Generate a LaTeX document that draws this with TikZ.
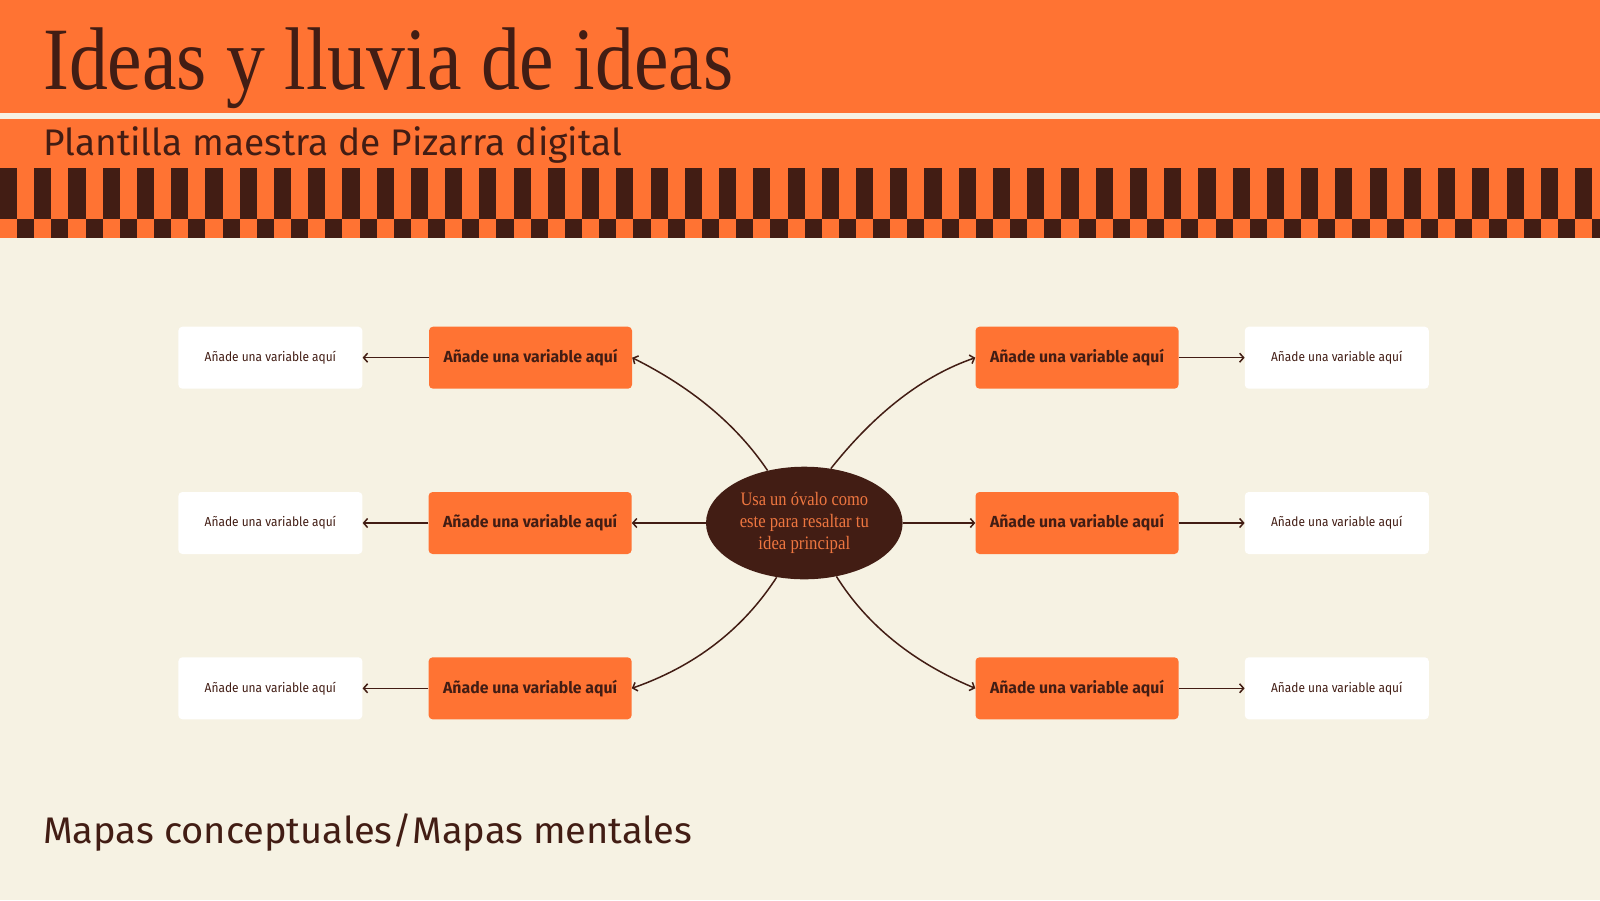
\documentclass[tikz,border=0pt]{standalone}
\usepackage{fontspec}
\usepackage{graphicx}
\setmainfont{Liberation Serif}
\newfontfamily\fira{Fira Sans}
\usetikzlibrary{arrows.meta,shapes.geometric}
\definecolor{orng}{HTML}{FF7333}
\definecolor{brn}{HTML}{421D14}
\definecolor{crm}{HTML}{F6F2E3}
\definecolor{ovtext}{HTML}{EE7640}
\newcommand\fitw[2]{\resizebox{#1}{\height}{#2}}
\begin{document}
\begin{tikzpicture}[x=1pt,y=-1pt,
  mainbox/.style={fill=orng, rounded corners=4pt, minimum width=203pt, minimum height=62pt, inner sep=0pt, text=brn, font=\fira\bfseries\fontsize{16}{19}\selectfont},
  subbox/.style={fill=white, rounded corners=4pt, minimum width=184pt, minimum height=62pt, inner sep=0pt, text=brn, font=\fira\fontsize{13}{16}\selectfont},
  conn/.style={draw=brn, line width=1.5pt, -{Straight Barb[length=4pt,width=9pt]}},
  heading/.style={anchor=base west, inner sep=0pt, text=brn}
]
\useasboundingbox (0,0) rectangle (1600,900);
\fill[crm] (0,0) rectangle (1600,900);
% header bands
\fill[orng] (0,0) rectangle (1600,113);
\fill[orng] (0,119) rectangle (1600,238);
\foreach \i in {0,...,46} {
  \fill[brn] ({\i*34.24},168) rectangle ++(17.12,51);
  \fill[brn] ({\i*34.24+17.12},219) rectangle ++(17.12,19);
}
\node[heading, font=\fontsize{89}{89}\selectfont] (title) at (43,89.8) {\fitw{690pt}{Ideas y lluvia de ideas}};
\node[heading, font=\fira\fontsize{37}{40}\selectfont] (subtitle) at (43,155) {\fitw{579pt}{Plantilla maestra de Pizarra digital}};
\node[heading, font=\fira\fontsize{37}{40}\selectfont] (footer) at (43,843.5) {\fitw{649pt}{Mapas conceptuales/Mapas mentales}};
% central ellipse
\node[ellipse, fill=brn, minimum width=196.6pt, minimum height=112.6pt, inner sep=0pt, text=ovtext, align=center, font=\fontsize{19}{22}\selectfont] (E) at (804.3,523) {\fitw{127.6pt}{Usa un óvalo como}\\\fitw{129pt}{este para resaltar tu}\\\fitw{91.7pt}{idea principal}};
% main boxes
\node[mainbox] (L1) at (530.5,357.7) {\fitw{174pt}{Añade una variable aquí}};
\node[mainbox] (L2) at (530.1,523) {\fitw{174pt}{Añade una variable aquí}};
\node[mainbox] (L3) at (530.1,688.3) {\fitw{174pt}{Añade una variable aquí}};
\node[mainbox] (R1) at (1077,357.7) {\fitw{174pt}{Añade una variable aquí}};
\node[mainbox] (R2) at (1077,523) {\fitw{174pt}{Añade una variable aquí}};
\node[mainbox] (R3) at (1077,688.3) {\fitw{174pt}{Añade una variable aquí}};
% sub boxes
\node[subbox] (WL1) at (270.4,357.7) {\fitw{131.4pt}{Añade una variable aquí}};
\node[subbox] (WL2) at (270.4,523) {\fitw{131.4pt}{Añade una variable aquí}};
\node[subbox] (WL3) at (270.4,688.3) {\fitw{131.4pt}{Añade una variable aquí}};
\node[subbox] (WR1) at (1336.8,357.7) {\fitw{131.4pt}{Añade una variable aquí}};
\node[subbox] (WR2) at (1336.8,523) {\fitw{131.4pt}{Añade una variable aquí}};
\node[subbox] (WR3) at (1336.8,688.3) {\fitw{131.4pt}{Añade una variable aquí}};
% connectors from ellipse
\draw[conn] (E.125.4) .. controls (736.9,425.1) and (692.4,387.8) .. (L1.east);
\draw[conn] (E.64.2) .. controls (875.7,412) and (923.8,375.4) .. (R1.west);
\draw[conn] (E.243.5) .. controls (742.7,629.6) and (694.7,666.3) .. (L3.east);
\draw[conn] (E.301.1) .. controls (867.1,625.3) and (913.5,662.5) .. (R3.west);
\draw[conn] (E.west) -- (L2.east);
\draw[conn] (E.east) -- (R2.west);
% connectors to sub boxes
\draw[conn] (L1.west) -- (WL1.east);
\draw[conn] (L2.west) -- (WL2.east);
\draw[conn] (L3.west) -- (WL3.east);
\draw[conn] (R1.east) -- (WR1.west);
\draw[conn] (R2.east) -- (WR2.west);
\draw[conn] (R3.east) -- (WR3.west);
\end{tikzpicture}
\end{document}
